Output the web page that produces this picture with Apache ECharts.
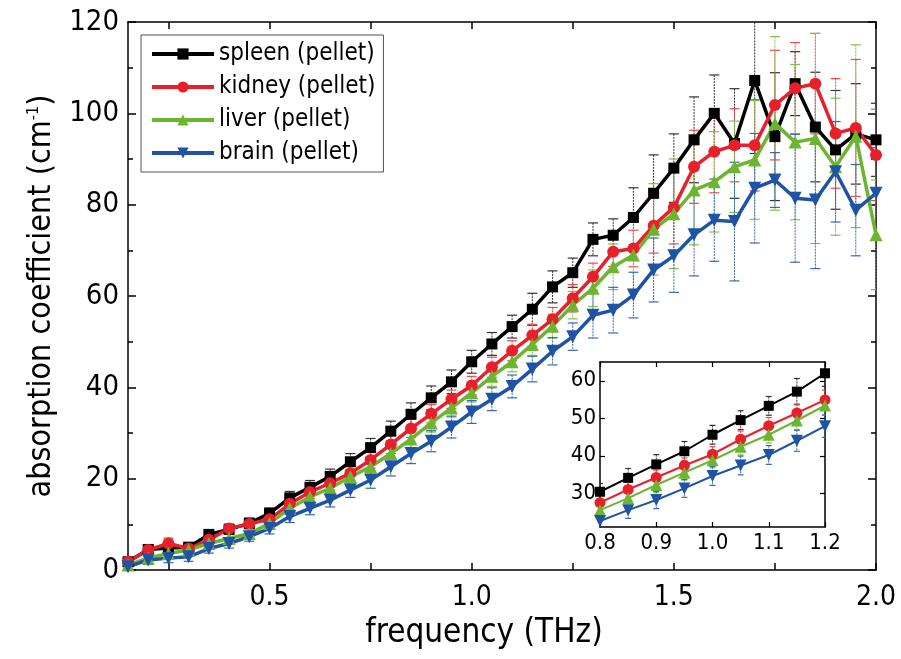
<!DOCTYPE html>
<html>
<head>
<meta charset="utf-8">
<script src="https://cdn.jsdelivr.net/npm/echarts@6/dist/echarts.min.js"></script>
<style>
html,body{margin:0;padding:0;background:#fff;}
#chart{width:901px;height:659px;}
</style>
</head>
<body>
<div id="chart"></div>
<script>
// frequency (THz)
const freq = [0.15,0.20,0.25,0.30,0.35,0.40,0.45,0.50,0.55,0.60,0.65,0.70,0.75,0.80,0.85,0.90,0.95,1.00,1.05,1.10,1.15,1.20,1.25,1.30,1.35,1.40,1.45,1.50,1.55,1.60,1.65,1.70,1.75,1.80,1.85,1.90,1.95,2.00];
// absorption coefficient (cm^-1)
const spleen = [1.8,4.5,4.8,5.0,7.8,8.9,10.2,12.4,15.8,18.1,20.5,23.7,26.8,30.4,34.1,37.7,41.2,45.6,49.5,53.3,57.1,62.0,65.1,72.4,73.3,77.2,82.5,88.0,94.2,100.0,93.4,107.2,94.9,106.5,97.0,92.0,95.5,94.2];
const kidney = [1.8,4.4,5.8,4.7,6.6,9.1,10.1,11.1,14.5,17.1,19.0,21.2,24.1,27.5,31.0,34.2,37.4,40.4,44.4,48.0,51.4,54.9,59.5,64.2,69.7,70.4,75.4,79.4,88.3,91.6,93.0,93.0,101.8,105.5,106.5,95.6,96.8,90.9];
const liver = [1.1,2.6,3.6,4.4,5.8,6.9,8.0,10.2,13.5,16.0,17.9,20.4,22.6,25.5,28.7,32.2,35.5,38.8,42.4,45.6,49.4,53.4,58.0,61.7,66.4,69.0,74.6,78.0,83.2,85.0,88.3,89.8,97.8,93.7,94.5,88.3,95.0,73.4];
const brain = [0.7,2.2,2.6,2.9,4.7,5.8,7.3,9.1,11.7,13.5,15.3,17.5,19.7,22.6,25.5,28.2,31.3,34.6,37.4,40.2,44.0,47.9,51.1,55.8,56.9,60.2,65.7,68.8,73.4,76.6,76.3,83.6,85.4,81.4,81.0,87.2,78.8,82.5];
// error bar half-widths
const spleenErr = [0.8,1.0,1.0,1.0,1.0,1.0,1.2,1.2,1.4,1.5,1.6,1.8,2.0,2.2,2.5,2.6,2.6,2.5,2.5,2.5,3.5,3.5,3.2,3.6,3.6,6.5,8.4,7.5,9.4,8.4,12.0,16.0,14.0,7.0,12.0,13.0,11.0,8.0];
const kidneyErr = [0.8,1.0,1.2,1.0,1.0,1.0,1.0,1.2,1.3,1.4,1.5,1.6,1.8,2.0,2.0,2.0,2.0,2.0,2.2,2.2,2.4,2.6,3.0,3.0,3.2,4.0,6.0,8.0,8.0,9.0,8.0,10.0,12.0,10.0,11.0,12.0,15.0,10.0];
const liverErr = [0.8,1.0,1.0,1.0,1.0,1.0,1.0,1.2,1.3,1.4,1.5,1.6,1.8,2.0,2.0,2.0,2.0,2.0,2.2,2.2,2.4,2.6,3.0,4.0,5.0,8.0,10.0,12.0,12.0,11.0,10.0,13.0,19.0,17.0,23.0,15.0,20.0,12.0];
const brainErr = [0.8,1.0,1.0,1.0,1.0,1.0,1.0,1.2,1.3,1.4,1.5,1.6,1.8,2.0,2.2,2.3,2.4,2.5,2.5,2.5,2.8,3.0,3.0,5.0,5.0,5.0,7.0,8.0,9.0,9.0,13.0,12.0,6.0,14.0,15.0,11.0,10.0,10.0];
const xMajorTicks = [0.5,1.0,1.5,2.0];
const xMinorTicks = [0.25,0.5,0.75,1.0,1.25,1.5,1.75,2.0];
const insetYTicks = [30,40,50,60];

const names = ['spleen (pellet)','kidney (pellet)','liver (pellet)','brain (pellet)'];
const colors = ['#000000','#e8202a','#6cb52f','#1f54a5'];
const errColors = ['#333333','#ee4a50','#7cc24a','#3a68b4'];
const symbols = ['rect','circle','triangle','triangle'];
const rotates = [0,0,0,180];
const sizes = [11,12,13,13];
const values = [spleen,kidney,liver,brain];
const errs = [spleenErr,kidneyErr,liverErr,brainErr];
const FONT = "'DejaVu Sans Condensed','DejaVu Sans',sans-serif";

function inInset(f){ return f>0.799 && f<1.201; }
function pairs(v){ return freq.map((f,i)=>[f,v[i]]); }
function insetPairs(v){ return freq.map((f,i)=>[f,v[i]]).filter(p=>inInset(p[0])); }
function errTriples(v,e,inset){
  let d = freq.map((f,i)=>[f,v[i],e[i]]);
  if(inset) d = d.filter(p=>inInset(p[0]));
  return d;
}
function errRender(color, capW){
  return function(params, api){
    const x=api.value(0), y=api.value(1), e=api.value(2);
    const t=api.coord([x,y+e]), b=api.coord([x,y-e]);
    const st={stroke:color,lineWidth:1,lineDash:[2,1]};
    return {type:'group',children:[
      {type:'line',shape:{x1:t[0],y1:t[1],x2:b[0],y2:b[1]},style:st},
      {type:'line',shape:{x1:t[0]-capW,y1:t[1],x2:t[0]+capW,y2:t[1]},style:{stroke:color,lineWidth:1.2}},
      {type:'line',shape:{x1:b[0]-capW,y1:b[1],x2:b[0]+capW,y2:b[1]},style:{stroke:color,lineWidth:1.2}}
    ]};
  };
}

const series = [];
for(let k=0;k<4;k++){
  series.push({type:'custom',name:'err'+k,xAxisIndex:0,yAxisIndex:0,clip:true,z:2,
    renderItem:errRender(errColors[k],5),encode:{x:0,y:1},data:errTriples(values[k],errs[k],false),silent:true});
}
for(let k=0;k<4;k++){
  series.push({type:'line',name:names[k],xAxisIndex:0,yAxisIndex:0,z:3,
    data:pairs(values[k]),symbol:symbols[k],symbolRotate:rotates[k],symbolSize:sizes[k],
    showAllSymbol:true,clip:true,
    lineStyle:{color:colors[k],width:3.5},itemStyle:{color:colors[k]}});
}
for(let k=0;k<4;k++){
  series.push({type:'custom',name:'ierr'+k,xAxisIndex:2,yAxisIndex:2,clip:true,z:4,
    renderItem:errRender(errColors[k],3),encode:{x:0,y:1},data:errTriples(values[k],errs[k],true),silent:true});
}
for(let k=0;k<4;k++){
  series.push({type:'line',name:'inset'+k,xAxisIndex:2,yAxisIndex:2,z:5,
    data:insetPairs(values[k]),symbol:symbols[k],symbolRotate:rotates[k],symbolSize:sizes[k]-1,
    showAllSymbol:true,clip:false,
    lineStyle:{color:colors[k],width:2},itemStyle:{color:colors[k]}});
}

const axisLine = {show:true,onZero:false,lineStyle:{color:'#000',width:1.5}};
const option = {
  animation:false,
  backgroundColor:'#fff',
  textStyle:{fontFamily:FONT},
  grid:[
    {left:128,top:22,width:748,height:548},
    {left:600,top:362,width:225,height:165,show:true,backgroundColor:'#fff',borderWidth:0}
  ],
  legend:{
    data:names, orient:'vertical', left:141, top:35, itemWidth:62, itemHeight:14, itemGap:9,
    padding:[7,8,7,9], borderColor:'#555', borderWidth:1, backgroundColor:'#fff',
    lineStyle:{width:4},
    textStyle:{fontFamily:FONT,fontSize:24,color:'#000'}
  },
  xAxis:[
    {type:'value',gridIndex:0,min:0.15,max:2.0,position:'bottom',axisLine:axisLine,
     axisTick:{show:true,inside:true,length:7,lineStyle:{color:'#000',width:1.5},customValues:xMinorTicks},
     axisLabel:{customValues:xMajorTicks,formatter:v=>v.toFixed(1),fontSize:28,color:'#000',margin:14,fontFamily:FONT},
     splitLine:{show:false},
     name:'frequency (THz)',nameLocation:'middle',nameGap:44,
     nameTextStyle:{fontSize:33,color:'#000',fontFamily:FONT,padding:[0,36,0,0]}},
    {type:'value',gridIndex:0,min:0.15,max:2.0,position:'top',axisLine:axisLine,
     axisTick:{show:true,inside:true,length:7,lineStyle:{color:'#000',width:1.5},customValues:xMinorTicks},
     axisLabel:{show:false},splitLine:{show:false}},
    {type:'value',gridIndex:1,min:0.8,max:1.2,interval:0.1,position:'bottom',axisLine:axisLine,
     axisTick:{show:true,inside:true,length:5,lineStyle:{color:'#000',width:1.2}},
     axisLabel:{formatter:v=>v.toFixed(1),fontSize:22,color:'#000',margin:5,fontFamily:FONT},
     splitLine:{show:false}},
    {type:'value',gridIndex:1,min:0.8,max:1.2,interval:0.1,position:'top',axisLine:axisLine,
     axisTick:{show:true,inside:true,length:5,lineStyle:{color:'#000',width:1.2}},
     axisLabel:{show:false},splitLine:{show:false}}
  ],
  yAxis:[
    {type:'value',gridIndex:0,min:0,max:120,interval:20,position:'left',axisLine:axisLine,
     axisTick:{show:true,inside:true,length:8,lineStyle:{color:'#000',width:1.5}},
     minorTick:{show:true,splitNumber:2,length:5,lineStyle:{color:'#000',width:1.5}},
     axisLabel:{fontSize:29,color:'#000',margin:9,fontFamily:FONT},
     splitLine:{show:false},minorSplitLine:{show:false},
     name:'absorption coefficient (cm{sup|-1})',nameLocation:'middle',nameGap:70,
     nameTextStyle:{fontSize:32,color:'#000',fontFamily:FONT,
       rich:{sup:{fontSize:16,verticalAlign:'top',padding:[0,0,16,0],fontFamily:FONT,color:'#000'}}}},
    {type:'value',gridIndex:0,min:0,max:120,interval:20,position:'right',axisLine:axisLine,
     axisTick:{show:true,inside:true,length:8,lineStyle:{color:'#000',width:1.5}},
     minorTick:{show:true,splitNumber:2,length:5,lineStyle:{color:'#000',width:1.5}},
     axisLabel:{show:false},splitLine:{show:false}},
    {type:'value',gridIndex:1,min:21,max:65,position:'left',axisLine:axisLine,
     axisTick:{show:true,inside:true,length:5,lineStyle:{color:'#000',width:1.2},customValues:insetYTicks},
     axisLabel:{customValues:insetYTicks,fontSize:22,color:'#000',margin:4,fontFamily:FONT},
     splitLine:{show:false}},
    {type:'value',gridIndex:1,min:21,max:65,position:'right',axisLine:axisLine,
     axisTick:{show:true,inside:true,length:5,lineStyle:{color:'#000',width:1.2},customValues:insetYTicks},
     axisLabel:{show:false},splitLine:{show:false}}
  ],
  series:series
};
const chart = echarts.init(document.getElementById('chart'),null,{renderer:'canvas'});
chart.setOption(option);
</script>
</body>
</html>
